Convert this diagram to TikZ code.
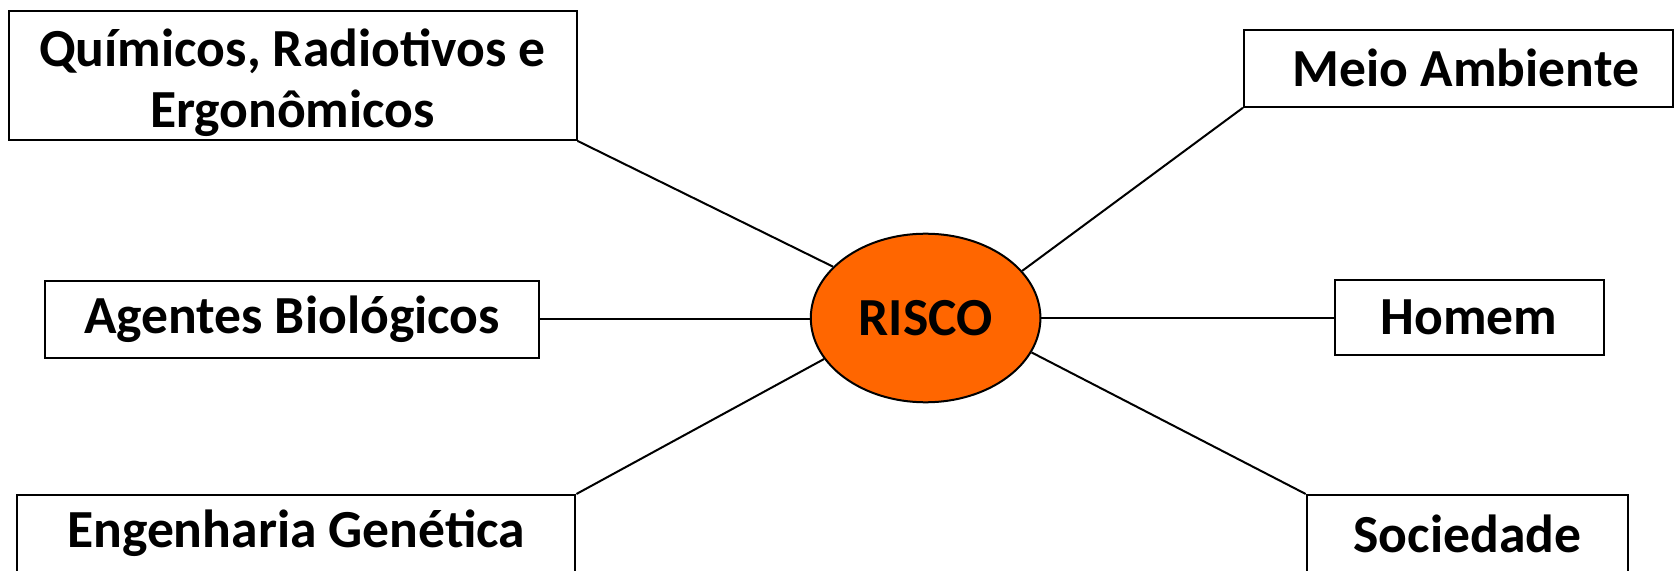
\documentclass[tikz,border=0pt]{standalone}
\usepackage{fontspec}
\setmainfont{Carlito}
\usetikzlibrary{shapes.geometric}
\definecolor{riskorange}{HTML}{FF6600}
\begin{document}
\begin{tikzpicture}[x=0.5pt,y=-0.5pt,
  txt/.style={font=\fontsize{26.8}{30.5}\selectfont\bfseries, align=center},
  box/.style={draw=black, line width=1pt, fill=white, inner sep=0pt, txt},
  hub/.style={ellipse, draw=black, line width=1pt, fill=riskorange, inner sep=0pt,
    minimum width=114.8pt, minimum height=84.3pt, txt},
  link/.style={draw=black, line width=1pt}]
\useasboundingbox (0,0) rectangle (1674,571);
\node[hub] (risco) at (925.6,318) {RISCO};
\node[box, minimum width=284pt, minimum height=64.6pt,
  label={[txt, yshift=-3.7pt]center:{Químicos, Radiotivos e\\Ergonômicos}}] (quim) at (292.5,75.3) {};
\node[box, minimum width=214.6pt, minimum height=38.5pt] (meio) at (1458.5,68.3) {\hspace*{7.5pt}Meio Ambiente};
\node[box, minimum width=247pt, minimum height=38.4pt] (agen) at (292,319.2) {Agentes Biológicos};
\node[box, minimum width=134.5pt, minimum height=37.9pt] (homem) at (1469,317.6) {Homem};
\node[box, minimum width=279.2pt, minimum height=38.5pt] (eng) at (296.2,533.5) {Engenharia Genética};
\node[box, minimum width=160.7pt, minimum height=38.5pt] (soc) at (1467.4,533.5) {Sociedade};
\draw[link] (quim.south east) -- (risco.151);
\draw[link] (meio.south west) -- (risco.26);
\draw[link] (agen.east) -- (risco.west |- agen.east);
\draw[link] (homem.west) -- (risco.east |- homem.west);
\draw[link] (eng.north east) -- (risco.202);
\draw[link] (soc.north west) -- (risco.342);
\end{tikzpicture}
\end{document}
